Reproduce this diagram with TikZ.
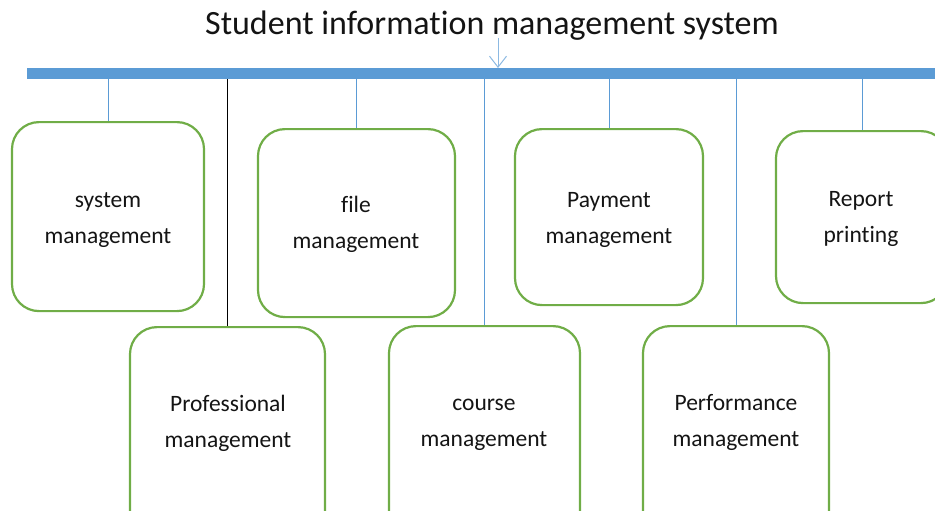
\documentclass[tikz,border=0pt]{standalone}
\usepackage{fontspec}
\setmainfont[Ligatures=NoCommon]{Carlito}
\usetikzlibrary{arrows.meta}
\definecolor{barblue}{HTML}{5B9BD5}
\definecolor{boxgreen}{HTML}{70AD47}
\definecolor{txt}{HTML}{141414}
\begin{document}
\begin{tikzpicture}[x=1pt,y=-1pt,
  modbox/.style={draw=boxgreen,line width=2.2pt,rounded corners=27pt,anchor=north,inner sep=0pt},
  lbl/.style={anchor=base,inner sep=0pt,text=txt,font=\fontsize{23.5}{28}\selectfont},
  link/.style={draw=barblue,line width=1pt},
  blacklink/.style={draw=black,line width=1pt}]
\useasboundingbox (0,0) rectangle (935,511);
\clip (0,0) rectangle (935,511);
\node[anchor=base,text=txt,font=\fontsize{34}{40}\selectfont,inner sep=0pt] (title) at (492,35) {Student information management system};
\node[fill=barblue,inner sep=0pt,minimum width=913pt,minimum height=11pt,anchor=north west] (bar) at (27,68) {};
\coordinate (arrtop) at (498,38);
\draw[draw=barblue!70,line width=1pt,-{Straight Barb[length=11pt,width=17pt]}] (arrtop) -- (arrtop |- bar.north);
% top row
\node[modbox,minimum width=192pt,minimum height=189pt] (sys) at (108,121) {};
\node[modbox,minimum width=197pt,minimum height=188pt] (file) at (356.5,128) {};
\node[modbox,minimum width=188pt,minimum height=176pt] (pay) at (609,128) {};
\node[modbox,minimum width=172pt,minimum height=172pt] (rep) at (862,130) {};
% bottom row
\node[modbox,minimum width=195pt,minimum height=230pt] (pro) at (227.5,326) {};
\node[modbox,minimum width=191pt,minimum height=230pt] (cou) at (484.5,325) {};
\node[modbox,minimum width=186pt,minimum height=230pt] (per) at (736,325) {};
% labels
\node[lbl] (sysA) at (108,207) {system};
\node[lbl] (sysB) at (108,243) {management};
\node[lbl] (fileA) at (356,212) {file};
\node[lbl] (fileB) at (356,248) {management};
\node[lbl] (payA) at (609,207) {Payment};
\node[lbl] (payB) at (609,243) {management};
\node[lbl] (repA) at (861,206) {Report};
\node[lbl] (repB) at (861,242) {printing};
\node[lbl] (proA) at (228,411) {Professional};
\node[lbl] (proB) at (228,447) {management};
\node[lbl] (couA) at (484,410) {course};
\node[lbl] (couB) at (484,446) {management};
\node[lbl] (perA) at (736,410) {Performance};
\node[lbl] (perB) at (736,446) {management};
% connectors
\draw[link] (bar.south -| sys.north) -- (sys.north);
\draw[blacklink] (bar.south -| pro.north) -- (pro.north);
\draw[link] (bar.south -| file.north) -- (file.north);
\draw[link] (bar.south -| cou.north) -- (cou.north);
\draw[link] (bar.south -| pay.north) -- (pay.north);
\draw[link] (bar.south -| per.north) -- (per.north);
\draw[link] (bar.south -| rep.north) -- (rep.north);
\end{tikzpicture}
\end{document}
